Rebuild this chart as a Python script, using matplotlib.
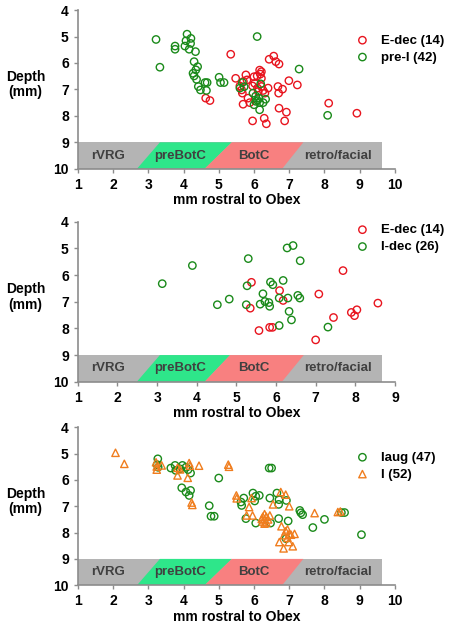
import matplotlib
matplotlib.use("Agg")
import matplotlib.pyplot as plt
from matplotlib.patches import Polygon

plt.rcParams['font.family'] = ['Liberation Sans', 'DejaVu Sans']
plt.rcParams['font.weight'] = 'bold'

# ---- panel 1: E-dec vs pre-I ----
p1_edec_x = [5.34, 4.63, 4.75, 5.48, 5.77, 5.60, 5.70, 5.67, 5.83, 5.88, 5.69, 6.00, 6.02, 5.96,
             6.16, 6.21, 6.18, 6.09, 6.21, 6.21, 6.26, 6.40, 6.12, 6.31, 5.80, 5.65, 6.68, 6.81,
             6.70, 6.71, 6.92, 6.87, 5.96, 6.29, 6.35, 6.99, 7.23, 6.43, 6.56, 6.62, 6.71, 8.12,
             8.92, 6.10]
p1_edec_y = [5.67, 7.33, 7.42, 6.58, 6.45, 6.87, 6.70, 7.14, 7.33, 7.50, 7.56, 6.52, 6.77, 6.87,
             6.27, 6.33, 6.42, 6.49, 6.58, 6.89, 7.04, 6.95, 7.08, 7.14, 6.64, 7.02, 6.89, 6.99,
             7.14, 7.71, 7.86, 8.19, 8.19, 8.09, 8.30, 6.67, 6.83, 5.86, 5.74, 5.95, 6.04, 7.52,
             7.90, 6.95]
p1_prei_x = [3.22, 3.33, 3.76, 3.76, 4.10, 4.21, 4.07, 4.20, 4.04, 4.16, 4.34, 4.30, 4.40, 4.35,
             4.27, 4.30, 4.37, 4.61, 4.67, 4.42, 4.48, 4.65, 5.01, 5.05, 5.15, 6.09, 7.28, 8.09,
             5.67, 5.72, 5.60, 6.19, 5.97, 6.05, 6.14, 6.00, 6.16, 6.26, 6.33, 6.16, 6.10, 6.05]
p1_prei_y = [5.11, 6.16, 5.36, 5.48, 4.91, 5.07, 5.16, 5.26, 5.36, 5.48, 5.57, 5.95, 6.14, 6.26,
             6.39, 6.49, 6.62, 6.74, 6.74, 6.89, 7.02, 7.04, 6.54, 6.74, 6.74, 5.00, 6.23, 7.98,
             6.74, 6.90, 6.95, 6.79, 7.14, 7.25, 7.33, 7.58, 7.50, 7.50, 7.37, 7.77, 7.42, 7.45]

# ---- panel 2: E-dec vs I-dec ----
p2_edec_x = [5.38, 5.35, 5.57, 5.84, 5.91, 6.09, 6.18, 7.08, 7.69, 7.45, 7.00, 7.90, 7.98, 8.04, 8.57]
p2_edec_y = [6.27, 7.24, 8.08, 7.96, 7.96, 6.58, 6.95, 6.71, 5.83, 7.59, 8.43, 7.40, 7.52, 7.30, 7.05]
p2_idec_x = [3.13, 3.89, 4.52, 4.82, 5.25, 5.27, 5.30, 5.67, 5.72, 5.60, 5.82, 5.84, 5.86,
             5.92, 6.18, 6.08, 6.28, 6.43, 6.30, 6.33, 6.39, 6.08, 6.55, 6.60, 6.61, 7.31]
p2_idec_y = [6.32, 5.64, 7.11, 6.90, 7.11, 6.40, 5.38, 6.70, 6.99, 7.09, 7.03, 7.17, 6.26,
             6.36, 6.20, 6.86, 4.98, 4.89, 6.86, 7.36, 7.68, 7.89, 6.76, 6.86, 5.46, 7.95]

# ---- panel 3: Iaug vs I ----
p3_iaug_x = [3.27, 3.28, 3.25, 3.64, 3.76, 3.78, 3.97, 4.07, 4.13, 4.20, 3.90, 3.95, 4.07, 4.20,
             4.16, 4.73, 4.78, 4.87, 5.00, 6.43, 6.50, 5.71, 5.63, 5.65, 5.97, 6.05, 6.15, 6.02,
             6.45, 6.65, 6.71, 6.92, 6.70, 5.77, 6.05, 6.47, 6.70, 6.97, 7.30, 7.33, 7.38, 8.00,
             8.48, 8.57, 7.67, 9.05, 6.91]
p3_iaug_y = [5.20, 5.52, 5.42, 5.55, 5.45, 5.64, 5.45, 5.52, 5.61, 5.74, 5.58, 6.30, 6.46, 6.40,
             6.59, 6.98, 7.38, 7.38, 5.93, 5.55, 5.55, 6.69, 6.84, 6.97, 6.50, 6.62, 6.59, 6.80,
             6.69, 6.50, 6.75, 6.78, 6.93, 7.47, 7.64, 7.64, 7.47, 7.56, 7.16, 7.25, 7.32, 7.50,
             7.24, 7.24, 7.81, 8.08, 8.23]
p3_i_x = [2.07, 2.32, 3.22, 3.24, 3.24, 3.38, 3.83, 3.90, 3.83, 4.16, 4.18, 4.12, 4.44, 5.27,
          5.29, 4.23, 4.25, 5.50, 5.51, 5.93, 5.86, 6.76, 6.90, 6.54, 7.00, 5.96, 5.79, 6.30,
          6.25, 6.35, 6.30, 6.40, 6.25, 6.35, 6.30, 6.22, 6.78, 6.90, 6.95, 7.00, 6.85, 7.05,
          7.15, 6.72, 6.99, 7.10, 6.84, 6.95, 7.72, 8.38, 8.45, 6.45]
p3_i_y = [4.97, 5.39, 5.33, 5.49, 5.61, 5.45, 5.54, 5.60, 5.83, 5.36, 5.46, 5.92, 5.46, 5.42,
          5.50, 6.86, 6.95, 6.59, 6.70, 6.69, 7.03, 6.46, 6.56, 6.93, 7.00, 7.35, 7.35, 7.30,
          7.40, 7.40, 7.50, 7.50, 7.58, 7.62, 7.66, 7.48, 7.76, 7.95, 7.88, 8.05, 8.10, 8.08,
          8.05, 8.36, 8.36, 8.52, 8.60, 8.20, 7.26, 7.22, 7.20, 7.35]

# region band (x boundaries: bottom-left / top-left / top-right / bottom-right)
region_names = ['rVRG', 'preBotC', 'BotC', 'retro/facial']
band10 = dict(end=9.64, green=[2.68, 3.33, 5.37, 4.60], red=[4.60, 5.37, 7.40, 6.80],
              labels=[1.85, 3.90, 6.00, 8.39])
band9 = dict(end=8.68, green=[2.49, 3.07, 4.84, 4.20], red=[4.20, 4.84, 6.70, 6.15],
             labels=[1.76, 3.58, 5.44, 7.56])

RED = '#e8141e'
GREEN = '#1a8a1a'
ORANGE = '#f07d1e'


def draw_band(ax, b):
    ax.add_patch(Polygon([[1, 9], [b['end'], 9], [b['end'], 10], [1, 10]],
                         closed=True, fc='#b4b4b4', ec='none', zorder=1))
    for key, col in (('green', '#2ee68a'), ('red', '#f88080')):
        bl, tl, tr, br = b[key]
        ax.add_patch(Polygon([[bl, 10], [tl, 9], [tr, 9], [br, 10]],
                             closed=True, fc=col, ec='none', zorder=1))
    for name, xc in zip(region_names, b['labels']):
        ax.text(xc, 9.5, name, ha='center', va='center', fontsize=9.5,
                fontweight='bold', color='#404040', zorder=2)


def style(ax, xmax):
    ax.set_xlim(1, xmax)
    ax.set_ylim(10, 4)
    ax.set_xticks(range(1, xmax + 1))
    ax.set_yticks(range(4, 11))
    for s in ('top', 'right'):
        ax.spines[s].set_visible(False)
    for s in ('left', 'bottom'):
        ax.spines[s].set_color('#8c8c8c')
        ax.spines[s].set_linewidth(1.2)
    ax.tick_params(colors='#8c8c8c', labelcolor='black', labelsize=10, length=3, width=1)
    for lab in ax.get_xticklabels() + ax.get_yticklabels():
        lab.set_fontweight('bold')
    ax.set_ylabel('Depth\n(mm)', rotation=0, fontsize=10, fontweight='bold',
                  ha='center', va='center', linespacing=1.1)
    ax.yaxis.set_label_coords(-0.165, 0.53)
    ax.set_xlabel('mm rostral to Obex', fontsize=10, fontweight='bold', labelpad=1)


fig = plt.figure(figsize=(4.55, 6.32), dpi=100)
axes = [fig.add_axes([0.171, 0.733, 0.697, 0.251]),
        fig.add_axes([0.171, 0.396, 0.697, 0.253]),
        fig.add_axes([0.171, 0.074, 0.697, 0.250])]

kw = dict(s=28, facecolors='none', linewidths=1.0, zorder=3)

ax = axes[0]
draw_band(ax, band10)
ax.scatter(p1_edec_x, p1_edec_y, edgecolors=RED, marker='o', label='E-dec (14)', **kw)
ax.scatter(p1_prei_x, p1_prei_y, edgecolors=GREEN, marker='o', label='pre-I (42)', **kw)
style(ax, 10)
leg_pos = [(0.86, 0.88), (0.86, 1.02), (0.86, 0.88)]

ax = axes[1]
draw_band(ax, band9)
ax.scatter(p2_edec_x, p2_edec_y, edgecolors=RED, marker='o', label='E-dec (14)', **kw)
ax.scatter(p2_idec_x, p2_idec_y, edgecolors=GREEN, marker='o', label='I-dec (26)', **kw)
style(ax, 9)

ax = axes[2]
draw_band(ax, band10)
ax.scatter(p3_iaug_x, p3_iaug_y, edgecolors=GREEN, marker='o', label='Iaug (47)', **kw)
ax.scatter(p3_i_x, p3_i_y, edgecolors=ORANGE, marker='^', label='I (52)', **kw)
style(ax, 10)

for ax, pos in zip(axes, leg_pos):
    ax.legend(loc='upper left', bbox_to_anchor=pos, frameon=False,
              handlelength=1.0, handletextpad=0.9, labelspacing=0.35, borderaxespad=0,
              prop={'weight': 'bold', 'size': 9.5})

fig.savefig('out.png', dpi=100)
